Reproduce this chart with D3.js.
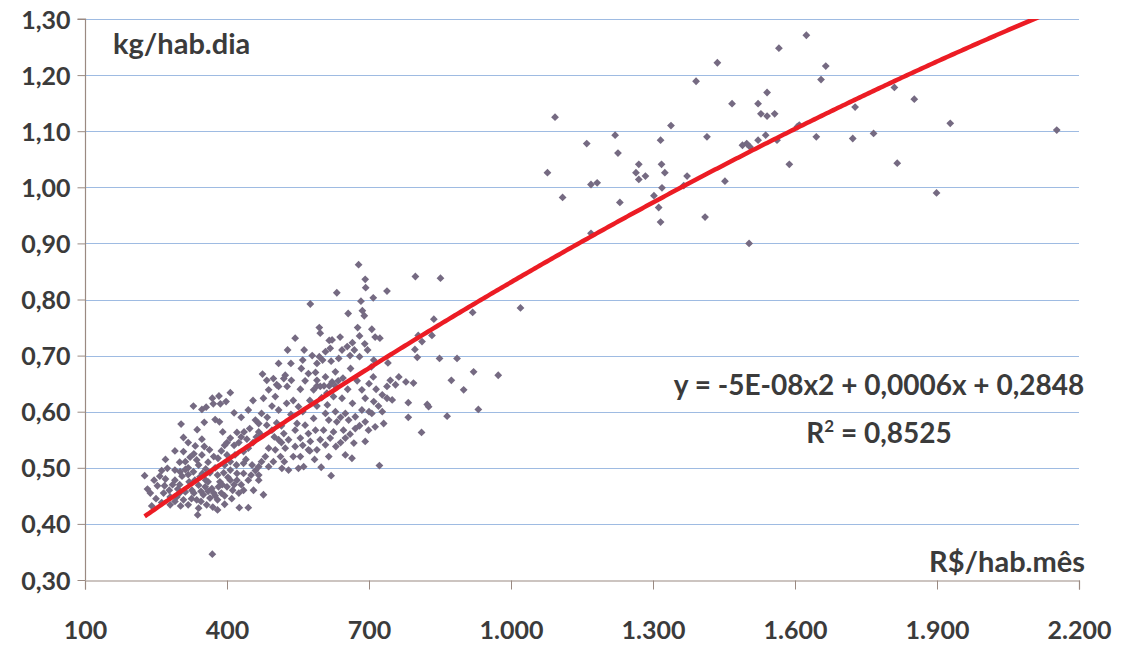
<!DOCTYPE html>
<html><head><meta charset="utf-8">
<script src="https://cdn.jsdelivr.net/npm/d3@7"></script>
<style>
body{margin:0;background:#fff}
text{font-family:Lato,"Open Sans",sans-serif;font-weight:700;fill:#3b3b3b}
</style>
</head><body>
<svg id="c" width="1123" height="645"></svg>
<script>
// ---- data ----
const xTicks = [100, 400, 700, 1000, 1300, 1600, 1900, 2200];
const yTicks = [0.30, 0.40, 0.50, 0.60, 0.70, 0.80, 0.90, 1.00, 1.10, 1.20, 1.30];
const yAxisTitle = "kg/hab.dia";
const xAxisTitle = "R$/hab.mês";
const equationText = "y = -5E-08x2 + 0,0006x + 0,2848";
const r2Value = "0,8525";
// quadratic trendline as it is drawn in the picture
const trendA = -6.1e-8, trendB = 0.000614, trendC = 0.2778;

// renda (R$/hab.mês), consumo (kg/hab.dia)
const upperCluster = [
[1077,1.026],[1093,1.125],[1109,0.982],[1160,1.078],[1169,1.005],[1182,1.008],[1169,0.918],[1220,1.093],[1226,1.061],[1230,0.973],
[1264,1.026],[1270,1.041],[1270,1.014],[1284,1.020],[1302,0.985],[1312,0.964],[1316,0.938],[1316,1.084],[1318,1.041],[1325,1.026],
[1319,0.999],[1338,1.110],[1365,1.003],[1372,1.020],[1391,1.189],[1414,1.090],[1410,0.947],[1436,1.222],[1452,1.011],[1467,1.149],
[1489,1.075],[1498,1.078],[1505,1.072],[1503,0.900],[1522,1.149],[1522,1.084],[1528,1.131],[1541,1.169],[1541,1.127],[1538,1.093],
[1557,1.131],[1562,1.084],[1566,1.248],[1588,1.041],[1605,1.108],[1624,1.271],[1609,1.111],[1645,1.090],[1655,1.192],[1665,1.216],
[1722,1.087],[1727,1.143],[1766,1.096],[1810,1.178],[1816,1.043],[1852,1.157],[1899,0.990],[1928,1.114],[2153,1.102]
];
const middleCluster = [
[1020,0.785],[973,0.665],[919,0.777],[931,0.604],[921,0.671],[900,0.639],[886,0.695],[874,0.656],[865,0.592],[849,0.695],
[851,0.838],[837,0.765],[833,0.736],[826,0.609],[823,0.613],[812,0.725],[811,0.563],[804,0.736],[802,0.697],[798,0.841],
[797,0.711],[794,0.651],[783,0.616],[783,0.590],[778,0.653],[763,0.662],[756,0.648],[749,0.621],[745,0.656],[740,0.687],
[738,0.624],[738,0.815],[738,0.645],[731,0.579],[728,0.630],[728,0.600],[723,0.731],[722,0.504],[713,0.733],[713,0.573],
[710,0.692],[710,0.618],[709,0.803],[709,0.662],[706,0.747],[706,0.597],[699,0.567],[697,0.710],[693,0.821],[692,0.836],
[692,0.547],[692,0.582],[692,0.624],[691,0.721],[690,0.771],[686,0.780],[685,0.639],[685,0.603],[683,0.797],[680,0.698],
[678,0.862],[676,0.750],[671,0.570],[671,0.591],[669,0.710],[668,0.544],[665,0.723],[664,0.517],[661,0.677],[657,0.585],
[656,0.775],[654,0.716],[650,0.523],[650,0.553],[650,0.597],[646,0.567],[643,0.710],[643,0.624],[639,0.733],[636,0.695],
[632,0.812],[632,0.582],[630,0.538],[629,0.671],[629,0.600],[629,0.646],[625,0.564],[625,0.627],[622,0.728],[622,0.653],
[620,0.486],[618,0.713],[618,0.553],[616,0.727],[616,0.646],[615,0.585],[611,0.633],[608,0.707],[608,0.662],[608,0.541],
[608,0.597],[605,0.646],[604,0.567],[602,0.692],[599,0.501],[597,0.740],[597,0.645],[597,0.550],[595,0.750],[595,0.698],
[590,0.686],[590,0.656],[590,0.532],[590,0.646],[587,0.670],[587,0.567],[583,0.639],[583,0.588],[576,0.792],[576,0.547],
[572,0.668],[572,0.532],[572,0.561],[565,0.576],[563,0.710],[562,0.502],[560,0.692],[557,0.677],[555,0.520],[555,0.553],
[551,0.499],[551,0.609],[548,0.579],[544,0.731],[544,0.538],[544,0.567],[536,0.656],[535,0.686],[530,0.496],[530,0.550],
[528,0.710],[527,0.645],[526,0.615],[523,0.665],[523,0.535],[521,0.511],[520,0.659],[520,0.561],[516,0.499],[513,0.520],
[509,0.686],[509,0.550],[509,0.603],[509,0.645],[505,0.648],[502,0.532],[502,0.627],[498,0.659],[498,0.511],[495,0.567],
[488,0.535],[488,0.502],[488,0.639],[484,0.656],[484,0.576],[481,0.520],[477,0.452],[477,0.624],[475,0.667],[473,0.511],
[473,0.558],[473,0.597],[467,0.579],[467,0.564],[467,0.502],[467,0.487],[467,0.478],
[485,0.590],[495,0.610],[505,0.580],[515,0.575],[535,0.595],[540,0.620],[555,0.640],[560,0.600],[565,0.655],[575,0.620],
[580,0.700],[590,0.610],[600,0.625],[612,0.612],[620,0.690],[635,0.655],[640,0.590],[645,0.660],[655,0.640],[660,0.700],
[665,0.615],[675,0.655],[680,0.735],[700,0.650],[705,0.680],[715,0.640],[720,0.610],[575,0.530],[585,0.515],[540,0.520],
[515,0.545],[500,0.555],[560,0.540],[615,0.520],[640,0.545],[660,0.560],[680,0.575],[700,0.600]
];
const lowerCluster = [
[369,0.346],[329,0.610],[347,0.604],[356,0.608],[369,0.624],[383,0.628],[407,0.634],[371,0.614],[386,0.614],[398,0.618],
[303,0.578],[352,0.581],[375,0.586],[384,0.582],[391,0.564],[337,0.568],[308,0.554],[347,0.551],[333,0.539],[352,0.538],
[363,0.532],[407,0.553],[421,0.563],[436,0.564],[442,0.551],[308,0.529],[322,0.519],[312,0.511],[336,0.514],[347,0.523],
[381,0.517],[400,0.523],[417,0.523],[435,0.529],[445,0.535],[407,0.511],[435,0.508],[453,0.505],[226,0.486],[262,0.495],
[274,0.499],[290,0.496],[301,0.493],[312,0.497],[329,0.493],[343,0.484],[364,0.491],[380,0.487],[393,0.491],[407,0.496],
[421,0.490],[435,0.490],[451,0.487],[253,0.468],[238,0.455],[266,0.455],[278,0.460],[280,0.448],[294,0.448],[312,0.457],
[326,0.460],[340,0.469],[354,0.466],[368,0.463],[382,0.466],[400,0.466],[407,0.478],[421,0.478],[435,0.460],[456,0.460],
[241,0.432],[280,0.434],[308,0.443],[318,0.434],[336,0.443],[350,0.452],[364,0.446],[380,0.443],[340,0.428],[357,0.434],
[380,0.425],[338,0.416],[426,0.429],[445,0.429],
[415,0.598],[430,0.590],[445,0.603],[455,0.620],[460,0.585],[425,0.545],[455,0.545],[395,0.540],[440,0.515],[420,0.505],
[395,0.505],[375,0.500],[355,0.498],[300,0.470],[290,0.478],[270,0.480],[320,0.475],[355,0.478],[385,0.475],[395,0.450],
[410,0.445],[425,0.455],[300,0.455],[250,0.445],[262,0.438],[325,0.445],[345,0.440],[370,0.430],[395,0.435],[412,0.460],
[232,0.462],[246,0.478],[258,0.485],[268,0.468],[285,0.470],[296,0.462],[305,0.485],[318,0.488],[332,0.478],[348,0.490],
[360,0.475],[372,0.455],[388,0.455],[402,0.483],[415,0.470],[430,0.470],[445,0.478],[460,0.495],[290,0.440],[302,0.432],
[330,0.455],[345,0.458],[360,0.458],[375,0.450],[390,0.470],[318,0.500],[340,0.505],[360,0.510],[372,0.520],[388,0.530],
[400,0.545],[415,0.540],[430,0.555],[448,0.570],[462,0.555],[330,0.525],[318,0.545],[290,0.530],[300,0.510],[270,0.515]
];

// ---- layout ----
const plot = {left: 85, right: 1079, top: 19, bottom: 580};
const svg = d3.select("#c");
const x = d3.scaleLinear().domain([100, 2200]).range([plot.left, plot.right]);
const y = d3.scaleLinear().domain([0.30, 1.30]).range([plot.bottom, plot.top]);
const fmtY = v => d3.format(".2f")(v).replace(".", ",");
const fmtX = v => d3.format(",")(v).replace(/,/g, ".");

// gridlines
svg.append("g").selectAll("line").data(yTicks.slice(1)).join("line")
  .attr("x1", plot.left).attr("x2", plot.right)
  .attr("y1", d => Math.round(y(d)) + 0.5).attr("y2", d => Math.round(y(d)) + 0.5)
  .attr("stroke", "#9ebbe2").attr("stroke-width", 1);

// axes
const axisColor = "#9a8a82";
const gy = svg.append("g").attr("transform", `translate(${plot.left + 0.5},0)`)
  .call(d3.axisLeft(y).tickValues(yTicks).tickFormat(fmtY).tickSize(8).tickPadding(7));
const gx = svg.append("g").attr("transform", `translate(0,${plot.bottom + 0.5})`)
  .call(d3.axisBottom(x).tickValues(xTicks).tickFormat(fmtX).tickSize(9));
[gx, gy].forEach(g => {
  g.select(".domain").attr("stroke", axisColor).attr("stroke-width", 1.2);
  g.selectAll(".tick line").attr("stroke", axisColor);
  g.selectAll(".tick text").style("font-family", "Lato, 'Open Sans', sans-serif")
    .style("font-weight", 700).style("font-size", "25px").attr("fill", "#3b3b3b");
});
gy.select(".domain").attr("d", `M-8,${plot.top}H0V${plot.bottom}`);
gy.selectAll(".tick text").attr("dy", "0.36em");
gx.selectAll(".tick text").attr("dy", 0).attr("y", 58);

// points
const allPoints = upperCluster.concat(middleCluster, lowerCluster);
const r = 3.9;
svg.append("g").selectAll("path").data(allPoints).join("path")
  .attr("d", `M0,${-r}L${r},0L0,${r}L${-r},0Z`)
  .attr("transform", d => `translate(${x(d[0])},${y(d[1])})`)
  .attr("fill", "#756a82");

// trendline
svg.append("clipPath").attr("id", "clip").append("rect")
  .attr("x", plot.left).attr("y", plot.top).attr("width", plot.right - plot.left).attr("height", plot.bottom - plot.top);
const xmin = d3.min(allPoints, d => d[0]), xmax = d3.max(allPoints, d => d[0]);
const trendXs = d3.range(xmin, xmax, 5).concat([xmax]);
const line = d3.line().x(d => x(d)).y(d => y(trendA * d * d + trendB * d + trendC));
svg.append("path").datum(trendXs).attr("d", line).attr("clip-path", "url(#clip)")
  .attr("fill", "none").attr("stroke", "#ec1c24").attr("stroke-width", 4.5).attr("stroke-linejoin", "round");

// texts
svg.append("text").attr("x", 113).attr("y", 54).style("font-size", "29px").text(yAxisTitle);
svg.append("text").attr("x", 1085).attr("y", 572).attr("text-anchor", "end").style("font-size", "29px").text(xAxisTitle);
svg.append("text").attr("x", 879).attr("y", 395).attr("text-anchor", "middle").style("font-size", "28px").text(equationText);
const r2 = svg.append("text").attr("x", 879).attr("y", 443).attr("text-anchor", "middle").style("font-size", "28px");
r2.append("tspan").text("R");
r2.append("tspan").text("2").attr("dy", -11).style("font-size", "17px");
r2.append("tspan").text(" = " + r2Value).attr("dy", 11);
</script>
</body></html>
